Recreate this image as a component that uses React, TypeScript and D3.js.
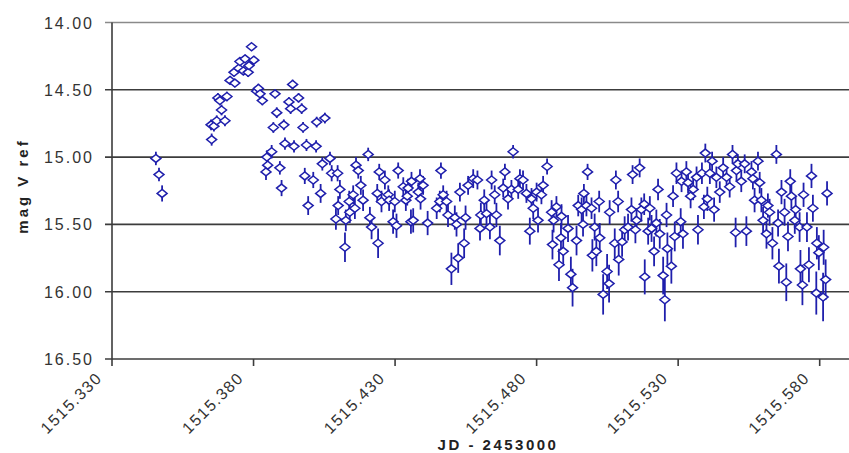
import React from "react";
import * as d3 from "d3";

type Obs = [number, number, number]; // JD - 2453000, mag, error

const earlyObs: Obs[] = [
  [1515.3455, 15.01, 0.05], [1515.3466, 15.13, 0.05], [1515.3477, 15.27, 0.06],
  [1515.365, 14.76, 0.04], [1515.3652, 14.87, 0.045], [1515.366, 14.77, 0.04],
  [1515.367, 14.73, 0.04], [1515.3674, 14.56, 0.035], [1515.3681, 14.58, 0.035],
  [1515.3687, 14.65, 0.04], [1515.3699, 14.73, 0.04], [1515.3706, 14.55, 0.035],
  [1515.3717, 14.43, 0.03], [1515.3731, 14.37, 0.03], [1515.3734, 14.45, 0.03],
  [1515.3748, 14.34, 0.03], [1515.3752, 14.29, 0.03], [1515.3764, 14.36, 0.03],
  [1515.377, 14.27, 0.03], [1515.3781, 14.37, 0.035], [1515.3784, 14.32, 0.03],
  [1515.3793, 14.18, 0.025], [1515.3801, 14.28, 0.03], [1515.3811, 14.51, 0.035],
  [1515.3817, 14.49, 0.035], [1515.3823, 14.53, 0.035], [1515.3831, 14.58, 0.035],
  [1515.3844, 15.11, 0.06], [1515.3847, 15.0, 0.05], [1515.385, 15.06, 0.05],
  [1515.3864, 14.96, 0.05], [1515.387, 14.78, 0.04], [1515.3876, 14.53, 0.035],
  [1515.3882, 14.67, 0.04], [1515.3893, 15.08, 0.05], [1515.3899, 15.23, 0.06],
  [1515.3907, 14.76, 0.04], [1515.3911, 14.9, 0.045], [1515.3925, 14.59, 0.035],
  [1515.3931, 14.64, 0.04], [1515.3938, 14.46, 0.035], [1515.3943, 14.92, 0.045],
  [1515.3959, 14.56, 0.035], [1515.397, 14.64, 0.04], [1515.3975, 14.78, 0.04],
  [1515.3981, 15.14, 0.06], [1515.3987, 14.91, 0.045], [1515.3993, 15.36, 0.07],
];

const declineObs: Obs[] = [
  [1515.4011, 15.17, 0.06], [1515.4021, 14.92, 0.045], [1515.4023, 14.74, 0.04],
  [1515.4037, 15.27, 0.07], [1515.4043, 15.05, 0.05], [1515.4052, 14.71, 0.04],
  [1515.407, 15.01, 0.05], [1515.4076, 15.12, 0.06], [1515.4091, 15.46, 0.08],
  [1515.4097, 15.12, 0.06], [1515.4099, 15.36, 0.07], [1515.4105, 15.24, 0.07],
  [1515.4123, 15.67, 0.11], [1515.4126, 15.47, 0.08], [1515.4138, 15.33, 0.08],
  [1515.414, 15.41, 0.08], [1515.4152, 15.28, 0.07], [1515.4158, 15.38, 0.08],
  [1515.4162, 15.06, 0.06], [1515.417, 15.1, 0.06], [1515.4179, 15.21, 0.07],
  [1515.4187, 15.32, 0.08], [1515.4205, 14.98, 0.05], [1515.4211, 15.45, 0.08],
  [1515.4217, 15.52, 0.09], [1515.4237, 15.27, 0.07], [1515.424, 15.64, 0.11],
  [1515.4244, 15.11, 0.06], [1515.4252, 15.33, 0.08], [1515.4264, 15.17, 0.07],
  [1515.4276, 15.28, 0.07], [1515.4279, 15.32, 0.08], [1515.4293, 15.48, 0.09],
  [1515.4299, 15.33, 0.08], [1515.4305, 15.51, 0.09], [1515.4311, 15.1, 0.06],
  [1515.4329, 15.22, 0.07], [1515.4338, 15.32, 0.08], [1515.4343, 15.29, 0.07],
  [1515.4346, 15.23, 0.07], [1515.4356, 15.48, 0.09], [1515.4358, 15.18, 0.07],
  [1515.4364, 15.47, 0.09], [1515.4382, 15.26, 0.07], [1515.4388, 15.16, 0.07],
  [1515.439, 15.31, 0.08], [1515.4399, 15.21, 0.07], [1515.4415, 15.49, 0.09],
  [1515.4447, 15.38, 0.08], [1515.4458, 15.33, 0.08], [1515.4462, 15.1, 0.06],
  [1515.447, 15.28, 0.07], [1515.4482, 15.33, 0.08], [1515.4487, 15.43, 0.09],
  [1515.4499, 15.83, 0.12], [1515.4511, 15.45, 0.09], [1515.4517, 15.5, 0.09],
  [1515.4523, 15.75, 0.11], [1515.4529, 15.26, 0.07], [1515.4544, 15.64, 0.11],
  [1515.4549, 15.45, 0.09], [1515.4558, 15.21, 0.07], [1515.4576, 15.16, 0.07],
  [1515.4591, 15.17, 0.07], [1515.46, 15.53, 0.09], [1515.4603, 15.43, 0.09],
  [1515.4615, 15.32, 0.08], [1515.4623, 15.42, 0.09], [1515.4635, 15.52, 0.09],
  [1515.4641, 15.17, 0.07], [1515.4652, 15.28, 0.07], [1515.4658, 15.43, 0.09],
  [1515.467, 15.62, 0.11], [1515.4682, 15.23, 0.07], [1515.4688, 15.11, 0.06],
  [1515.4699, 15.31, 0.08],
];

const dipObs: Obs[] = [
  [1515.4711, 15.24, 0.07], [1515.4717, 14.96, 0.05], [1515.4735, 15.24, 0.07],
  [1515.4741, 15.16, 0.07], [1515.4752, 15.17, 0.07], [1515.4764, 15.27, 0.07],
  [1515.4776, 15.55, 0.1], [1515.4782, 15.31, 0.08], [1515.4788, 15.38, 0.08],
  [1515.48, 15.26, 0.07], [1515.4805, 15.47, 0.09], [1515.4817, 15.28, 0.07],
  [1515.4823, 15.21, 0.07], [1515.4837, 15.07, 0.06], [1515.4853, 15.41, 0.09],
  [1515.4856, 15.65, 0.11], [1515.486, 15.47, 0.09], [1515.487, 15.37, 0.08],
  [1515.4879, 15.8, 0.12], [1515.4886, 15.6, 0.11], [1515.4888, 15.44, 0.09],
  [1515.4894, 15.7, 0.11], [1515.4911, 15.53, 0.1], [1515.4921, 15.87, 0.13],
  [1515.4927, 15.97, 0.14], [1515.4941, 15.62, 0.11], [1515.4947, 15.36, 0.08],
  [1515.4959, 15.39, 0.09], [1515.4964, 15.5, 0.09], [1515.4967, 15.27, 0.07],
  [1515.4976, 15.36, 0.08], [1515.498, 15.11, 0.06], [1515.4994, 15.38, 0.08],
  [1515.4997, 15.73, 0.12], [1515.5005, 15.52, 0.1], [1515.5011, 15.7, 0.11],
  [1515.5021, 15.33, 0.08], [1515.5023, 15.6, 0.11], [1515.5035, 16.02, 0.15],
  [1515.5049, 15.85, 0.13], [1515.5056, 15.94, 0.14], [1515.5058, 15.41, 0.09],
  [1515.5076, 15.64, 0.11], [1515.508, 15.17, 0.07], [1515.5088, 15.33, 0.08],
  [1515.509, 15.76, 0.12], [1515.5102, 15.63, 0.11], [1515.5111, 15.54, 0.1],
  [1515.5123, 15.52, 0.1], [1515.5135, 15.39, 0.09], [1515.5139, 15.13, 0.07],
  [1515.5149, 15.54, 0.1], [1515.5153, 15.47, 0.09], [1515.5164, 15.08, 0.07],
  [1515.517, 15.39, 0.09], [1515.518, 15.35, 0.08], [1515.5182, 15.89, 0.13],
  [1515.5194, 15.55, 0.1], [1515.52, 15.38, 0.09], [1515.5206, 15.53, 0.1],
  [1515.5215, 15.7, 0.11], [1515.5223, 15.49, 0.1], [1515.5229, 15.24, 0.08],
  [1515.5235, 15.57, 0.11], [1515.5247, 15.88, 0.14], [1515.5253, 16.06, 0.16],
  [1515.5259, 15.43, 0.09], [1515.5262, 15.68, 0.12], [1515.5276, 15.81, 0.13],
  [1515.5282, 15.29, 0.08], [1515.5288, 15.59, 0.11], [1515.5294, 15.12, 0.08],
];

const lateObs: Obs[] = [
  [1515.5309, 15.48, 0.1], [1515.5312, 15.18, 0.08], [1515.5317, 15.57, 0.11],
  [1515.5329, 15.11, 0.08], [1515.5335, 15.19, 0.08], [1515.5344, 15.29, 0.09],
  [1515.5353, 15.24, 0.08], [1515.5365, 15.15, 0.08], [1515.537, 15.54, 0.11],
  [1515.5384, 15.12, 0.08], [1515.5391, 15.37, 0.09], [1515.5396, 14.97, 0.07],
  [1515.5403, 15.31, 0.09], [1515.5412, 15.12, 0.08], [1515.542, 15.03, 0.07],
  [1515.5427, 15.39, 0.09], [1515.5435, 15.15, 0.08], [1515.5447, 15.26, 0.08],
  [1515.5459, 15.08, 0.08], [1515.5471, 15.15, 0.08], [1515.5482, 15.22, 0.08],
  [1515.5492, 14.98, 0.07], [1515.5503, 15.56, 0.11], [1515.5506, 15.1, 0.08],
  [1515.5511, 15.05, 0.07], [1515.5523, 15.18, 0.08], [1515.5535, 15.05, 0.07],
  [1515.5541, 15.55, 0.11], [1515.5559, 15.11, 0.08], [1515.5564, 15.16, 0.08],
  [1515.557, 15.32, 0.09], [1515.5582, 15.03, 0.07], [1515.5588, 15.19, 0.08],
  [1515.5594, 15.32, 0.09], [1515.56, 15.47, 0.1], [1515.5612, 15.57, 0.11],
  [1515.5617, 15.36, 0.09], [1515.5623, 15.41, 0.1], [1515.5633, 15.64, 0.12],
  [1515.5647, 14.98, 0.07], [1515.5653, 15.49, 0.1], [1515.5656, 15.81, 0.13],
  [1515.5665, 15.26, 0.09], [1515.5676, 15.41, 0.1], [1515.5682, 15.93, 0.14],
  [1515.5688, 15.59, 0.11], [1515.5696, 15.18, 0.09], [1515.57, 15.29, 0.09],
  [1515.5712, 15.47, 0.1], [1515.5715, 15.39, 0.1], [1515.5729, 15.52, 0.11],
  [1515.5732, 15.83, 0.14], [1515.5739, 15.95, 0.15], [1515.5743, 15.28, 0.09],
  [1515.5755, 15.52, 0.11], [1515.5762, 15.8, 0.13], [1515.5771, 15.14, 0.09],
  [1515.5776, 15.38, 0.1], [1515.5788, 16.01, 0.16], [1515.579, 15.64, 0.12],
  [1515.5797, 15.71, 0.13], [1515.5812, 16.04, 0.18], [1515.5814, 15.67, 0.13],
  [1515.5821, 15.91, 0.15], [1515.5826, 15.27, 0.09],
];

const xTicks = [1515.33, 1515.38, 1515.43, 1515.48, 1515.53, 1515.58];
const yTicks = [14.0, 14.5, 15.0, 15.5, 16.0, 16.5];

const W = 849;
const H = 453;
const blue = "#1f1fac";
const font = "'Liberation Sans', Arial, sans-serif";

export default function App() {
  const obs = [...earlyObs, ...declineObs, ...dipObs, ...lateObs];

  const x = d3.scaleLinear().domain([1515.33, 1515.59]).range([112, 848]);
  const y = d3.scaleLinear().domain([14, 16.5]).range([22.5, 359]);
  const fmt = d3.format(".2f");
  const fmtX = d3.format(".3f");

  const diamond = "M0,-4L5,0L0,4L-5,0Z";

  return (
    <svg
      width={W}
      height={H}
      style={{ position: "absolute", left: 0, top: 0, background: "#fff" }}
      fontFamily={font}
    >
      {/* gridlines */}
      {yTicks.map((t) => (
        <line
          key={"g" + t}
          x1={105}
          x2={W}
          y1={y(t)}
          y2={y(t)}
          stroke={t === 14 ? "#8a8a8a" : "#3c3c3c"}
          strokeWidth={1.6}
        />
      ))}
      {/* y axis */}
      <line x1={112} x2={112} y1={y(14)} y2={y(16.5)} stroke="#3c3c3c" strokeWidth={1.6} />
      {yTicks.map((t) => (
        <text
          key={"yl" + t}
          x={94}
          y={y(t) + 6}
          textAnchor="end"
          fontSize={16}
          letterSpacing={2}
          fill="#333"
        >
          {fmt(t)}
        </text>
      ))}
      {/* x axis ticks */}
      {xTicks.map((t) => (
        <g key={"xt" + t}>
          <line x1={x(t)} x2={x(t)} y1={y(16.5)} y2={y(16.5) + 7} stroke="#3c3c3c" strokeWidth={1.6} />
          <text
            transform={`translate(${x(t) - 9},${y(16.5) + 20}) rotate(-45)`}
            textAnchor="end"
            fontSize={16}
            letterSpacing={1.5}
            fill="#333"
          >
            {fmtX(t)}
          </text>
        </g>
      ))}
      {/* error bars */}
      <g stroke={blue} strokeWidth={1.8}>
        {obs.map(([jd, m, e], i) => (
          <line key={"e" + i} x1={x(jd)} x2={x(jd)} y1={y(m - e)} y2={y(m + e)} />
        ))}
      </g>
      {/* markers */}
      <g stroke={blue} strokeWidth={1.5} fill="#fff">
        {obs.map(([jd, m], i) => (
          <path key={"m" + i} d={diamond} transform={`translate(${x(jd)},${y(m)})`} />
        ))}
      </g>
      {/* axis titles */}
      <text
        transform={`translate(28,186) rotate(-90)`}
        textAnchor="middle"
        fontSize={15}
        fontWeight="bold"
        letterSpacing={3}
        fill="#222"
      >
        mag V ref
      </text>
      <text x={498} y={450} textAnchor="middle" fontSize={15} fontWeight="bold" letterSpacing={2.5} fill="#222">
        JD - 2453000
      </text>
    </svg>
  );
}
